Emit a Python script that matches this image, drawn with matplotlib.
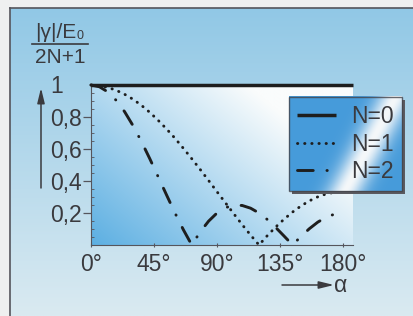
import numpy as np
import matplotlib
matplotlib.use('Agg')
import matplotlib.pyplot as plt
from matplotlib.patches import Rectangle

plt.rcParams['font.family'] = ['Liberation Sans', 'DejaVu Sans']

# ---------------- data ----------------
alpha_deg = [0, 6, 12, 18, 24, 30, 36, 42, 48, 54, 60, 66, 72, 78, 84, 90,
             96, 102, 108, 114, 120, 126, 132, 138, 144, 150, 156, 162, 168, 174, 180]
n1_values = [1.0, 0.996, 0.985, 0.967, 0.942, 0.911, 0.873, 0.829, 0.779, 0.725,
             0.667, 0.604, 0.539, 0.472, 0.403, 0.333, 0.264, 0.195, 0.127, 0.062,
             0.0, 0.059, 0.113, 0.162, 0.206, 0.244, 0.276, 0.301, 0.319, 0.330, 0.333]
n2_values = [1.0, 0.989, 0.957, 0.904, 0.833, 0.746, 0.647, 0.539, 0.426, 0.312,
             0.2, 0.095, 0.0, 0.082, 0.149, 0.2, 0.233, 0.249, 0.247, 0.230,
             0.2, 0.159, 0.109, 0.055, 0.0, 0.054, 0.102, 0.143, 0.174, 0.193, 0.2]
n0_alpha = [0, 187]
n0_values = [1.0, 1.0]

xticks = [0, 45, 90, 135, 180]
xtick_labels = ['0°', '45°', '90°', '135°', '180°']
yticks = [0.2, 0.4, 0.6, 0.8]
ytick_labels = ['0,2', '0,4', '0,6', '0,8']
legend_labels = ['N=0', 'N=1', 'N=2']

W, H = 414, 316
TXT = '#3a3a3e'
INK = '#1e1e1e'
FS = 16.5
FS_FRAC = 15

fig = plt.figure(figsize=(W / 100, H / 100), dpi=100)
fig.patch.set_facecolor('#eff0f0')

# ---------------- background (outer framed panel) ----------------
bg = fig.add_axes([0, 0, 1, 1], zorder=-1)
bg.set_xlim(0, W)
bg.set_ylim(H, 0)
bg.axis('off')
top_c = np.array([145, 200, 230]) / 255
bot_c = np.array([218, 234, 241]) / 255
v = np.linspace(0, 1, 200)[:, None]
grad = top_c[None, None, :] * (1 - v[..., None]) + bot_c[None, None, :] * v[..., None]
grad = np.repeat(grad, 2, axis=1)
bg.imshow(grad, extent=[10, W, H, 8], aspect='auto', interpolation='bilinear', zorder=0)
bg.plot([10, 10], [8, H], color='#55555c', lw=1.2, zorder=1)
bg.plot([10, W], [8, 8], color='#55555c', lw=1.2, zorder=1)

# ---------------- main axes ----------------
ax = fig.add_axes([91 / W, 71 / H, 261.8 / W, 160 / H], zorder=0)
ax.set_xlim(0, 187)
ax.set_ylim(0, 1)

nx, ny = 200, 120
u = np.linspace(0, 1, nx)[None, :]
vv = np.linspace(0, 1, ny)[:, None]
t = np.clip(0.75 * u + 0.55 * vv, 0, 1)
blue = np.array([92, 175, 226]) / 255
white = np.array([250, 252, 252]) / 255
img = blue[None, None, :] * (1 - t[..., None]) + white[None, None, :] * t[..., None]
ax.imshow(img, extent=[0, 187, 0, 1], origin='lower', aspect='auto',
          interpolation='bilinear', zorder=0)
ax.patch.set_alpha(0)

l0, = ax.plot(n0_alpha, n0_values, color=INK, lw=2.5, solid_capstyle='butt',
              clip_on=False, zorder=3)
l1, = ax.plot(alpha_deg, n1_values, color=INK, lw=2.1,
              linestyle=(0, (0.1, 2.35)), dash_capstyle='round', clip_on=False, zorder=3)
l2, = ax.plot(alpha_deg, n2_values, color=INK, lw=2.1,
              linestyle=(0, (5.4, 4.7, 0.1, 4.7)), dash_capstyle='round',
              clip_on=False, zorder=3)

for s in ['top', 'right']:
    ax.spines[s].set_visible(False)
for s in ['left', 'bottom']:
    ax.spines[s].set_color('#55555c')
    ax.spines[s].set_linewidth(0.8)

ax.set_yticks(yticks)
ax.set_yticklabels(ytick_labels)
ax.set_yticks(np.arange(0.05, 1.0, 0.05), minor=True)
ax.tick_params(axis='y', which='major', direction='out', length=5.8, width=0.9,
               colors='#55555c', labelcolor=TXT, labelsize=FS, pad=1)
ax.tick_params(axis='y', which='minor', direction='in', length=1.8, width=0.6,
               colors='#55555c')
ax.set_xticks(xticks)
ax.set_xticklabels(xtick_labels)
ax.tick_params(axis='x', which='major', direction='inout', length=3, width=0.8,
               colors='#55555c', labelcolor=TXT, labelsize=FS, pad=4)

# ---------------- annotations (figure pixel coordinates) ----------------
ov = fig.add_axes([0, 0, 1, 1], zorder=1)
ov.set_xlim(0, W)
ov.set_ylim(H, 0)
ov.axis('off')
ov.patch.set_alpha(0)

ov.text(57, 86.5, '1', ha='center', va='center', fontsize=FS, color=TXT)
ov.text(76.5, 38, '|γ|/E', ha='right', va='baseline', fontsize=FS_FRAC, color=TXT)
ov.text(77, 39, '0', ha='left', va='baseline', fontsize=9, color=TXT)
ov.plot([32, 88], [43.5, 43.5], color=TXT, lw=1.2)
ov.text(60, 63, '2N+1', ha='center', va='baseline', fontsize=FS_FRAC, color=TXT)
ov.annotate('', xy=(41, 88), xytext=(41, 188),
            arrowprops=dict(arrowstyle='-|>,head_length=0.9,head_width=0.22',
                            color='#3a3a3e', lw=1.1, shrinkA=0, shrinkB=0))
ov.annotate('', xy=(334, 285), xytext=(282, 285),
            arrowprops=dict(arrowstyle='-|>,head_length=0.9,head_width=0.22',
                            color='#3a3a3e', lw=1.1, shrinkA=0, shrinkB=0))
ov.text(341, 285, 'α', ha='center', va='center', fontsize=FS, color=TXT)

# ---------------- legend ----------------
leg = fig.legend(handles=[l0, l1, l2], labels=legend_labels, loc='upper left',
                 bbox_to_anchor=(289 / W, 1 - 97 / H), bbox_transform=fig.transFigure,
                 frameon=True, fancybox=False, edgecolor='#44444a', facecolor='none',
                 borderaxespad=0, borderpad=0.35, handlelength=1.7, handletextpad=0.65,
                 labelspacing=0.2, fontsize=FS)
leg.get_frame().set_linewidth(1.0)
for txt in leg.get_texts():
    txt.set_color(TXT)

fig.canvas.draw()
bb = leg.get_window_extent()
x0, x1 = bb.x0, bb.x1
y0, y1 = H - bb.y1, H - bb.y0
ov.add_patch(Rectangle((x0 + 3, y0 + 3), x1 - x0, y1 - y0, facecolor='#5a5a60',
                       edgecolor='none', zorder=0))
lu = np.linspace(0, 1, 160)[None, :]
lv = np.linspace(0, 1, 100)[:, None]  # 0 = bottom
d = lu - (0.5 + 0.45 * lv)
w = np.exp(-(d / 0.16) ** 2)
lblue = np.array([70, 155, 218]) / 255
lwhite = np.array([245, 248, 250]) / 255
limg = lblue[None, None, :] * (1 - w[..., None]) + lwhite[None, None, :] * w[..., None]
ov.imshow(limg, extent=[x0, x1, y1, y0], origin='lower', aspect='auto',
          interpolation='bilinear', zorder=1)
ov.set_xlim(0, W)
ov.set_ylim(H, 0)

fig.savefig('out.png', dpi=100)
